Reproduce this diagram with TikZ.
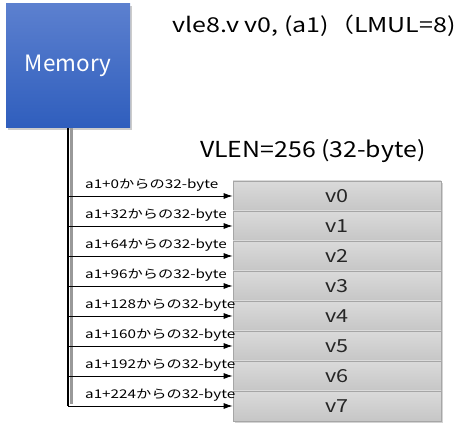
\documentclass[tikz,border=0pt]{standalone}
\usepackage{fontspec}
\setmainfont{Noto Sans CJK JP}
\usetikzlibrary{shadows,arrows.meta}
\definecolor{memtop}{HTML}{5C80CF}
\definecolor{membot}{HTML}{2F5EBD}
\definecolor{regtop}{HTML}{DADADA}
\definecolor{regbot}{HTML}{C6C6C6}
\definecolor{regline}{HTML}{A6A6A6}
\newcommand{\wide}[2]{\scalebox{#1}[1]{#2}}
\begin{document}
\begin{tikzpicture}[x=1pt,y=-1pt,
  membox/.style={draw=none,top color=memtop,bottom color=membot,minimum width=124pt,minimum height=124pt,
    text=white,font=\fontsize{22.5}{24}\selectfont,inner sep=0pt,
    drop shadow={shadow xshift=2pt,shadow yshift=-2pt,opacity=0.4}},
  regbox/.style={draw=regline,line width=0.8pt,top color=regtop,bottom color=regbot,minimum width=208pt,minimum height=30pt,
    text=black!85,font=\fontsize{18}{22}\selectfont,inner sep=0pt,
    drop shadow={shadow xshift=2pt,shadow yshift=-2pt,opacity=0.35}},
  lbl/.style={anchor=base west,inner sep=0pt,font=\fontsize{12}{13}\selectfont},
  ttl/.style={anchor=base west,inner sep=0pt,font=\fontsize{20.5}{22}\selectfont},
  vl/.style={anchor=base west,inner sep=0pt,font=\fontsize{22}{24}\selectfont},
  arr/.style={line width=0.8pt,-{Latex[length=9pt,width=6pt]}},
  trunk/.style={line width=1.1pt,black}
]
\useasboundingbox (0,0) rectangle (469,443);
\node[membox] (mem) at (68,66) {Memory};
\node[ttl] (title) at (172,33) {\wide{1.22}{vle8.v v0, (a1)（LMUL=8)}};
\node[vl] (vlen) at (200,158) {\wide{1.13}{VLEN=256 (32-byte)}};
\foreach \i in {0,...,7}{
  \node[regbox] (v\i) at (337,196+30*\i) {\wide{1.2}{v\i}};
}
\coordinate (tend) at (68,406);
\draw[draw=black!40,line width=3pt] ([xshift=3pt]mem.south) -- ([xshift=3pt,yshift=2pt]tend);
\draw[trunk] (mem.south) -- (tend);
\foreach \i/\a in {0/0,1/32,2/64,3/96,4/128,5/160,6/192,7/224}{
  \coordinate (t\i) at (68,196+30*\i);
  \draw[arr] (t\i) -- (v\i.west);
  \node[lbl] (l\i) at (85,189+30*\i) {\wide{1.27}{a1+\a からの32-byte}};
}
\end{tikzpicture}
\end{document}
